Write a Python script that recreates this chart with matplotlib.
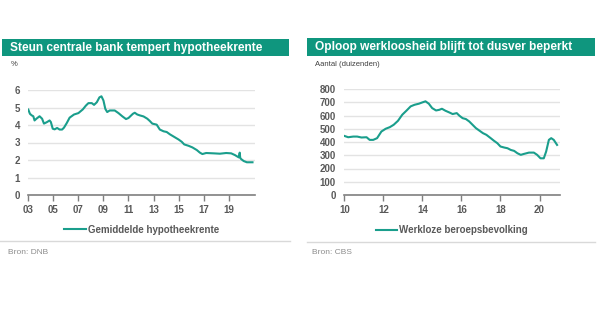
import matplotlib.pyplot as plt
from matplotlib.patches import Rectangle
from matplotlib.lines import Line2D

plt.rcParams['font.family'] = ['Liberation Sans', 'DejaVu Sans']

TEAL = '#0f967e'
LINE = '#1a9e8c'
GREY = '#595959'

# Gemiddelde hypotheekrente (%), DNB
rente_jaar = [2003.0, 2003.13, 2003.27, 2003.4, 2003.5, 2003.65, 2003.9, 2004.1, 2004.25,
              2004.5, 2004.7, 2004.8, 2004.95, 2005.1, 2005.3, 2005.5, 2005.7, 2005.85,
              2006.07, 2006.3, 2006.65, 2007.0, 2007.35, 2007.6, 2007.8, 2008.07, 2008.25,
              2008.47, 2008.68, 2008.84, 2009.0, 2009.15, 2009.3, 2009.5, 2009.9, 2010.2,
              2010.5, 2010.8, 2011.0, 2011.35, 2011.5, 2011.7, 2011.9, 2012.2, 2012.5,
              2012.7, 2012.9, 2013.25, 2013.5, 2013.8, 2014.05, 2014.3, 2014.65, 2015.0,
              2015.25, 2015.45, 2015.8, 2016.1, 2016.45, 2016.7, 2016.9, 2017.2, 2017.8,
              2018.3, 2018.8, 2019.2, 2019.5, 2019.8, 2019.88, 2019.92, 2020.0, 2020.2,
              2020.45, 2020.9]
rente = [4.88, 4.64, 4.55, 4.5, 4.26, 4.36, 4.5, 4.36, 4.08,
         4.17, 4.26, 4.17, 3.79, 3.75, 3.83, 3.74, 3.74, 3.85,
         4.11, 4.42, 4.6, 4.68, 4.89, 5.11, 5.25, 5.25, 5.15,
         5.3, 5.58, 5.64, 5.4, 4.92, 4.74, 4.83, 4.83, 4.68,
         4.5, 4.34, 4.4, 4.64, 4.7, 4.6, 4.55, 4.49, 4.36,
         4.23, 4.08, 4.02, 3.74, 3.64, 3.6, 3.47, 3.32, 3.17,
         3.04, 2.89, 2.81, 2.72, 2.57, 2.42, 2.34, 2.4, 2.38,
         2.36, 2.4, 2.38, 2.28, 2.15, 2.42, 2.12, 2.05, 1.94,
         1.87, 1.87]

# Werkloze beroepsbevolking (x 1000), CBS
wl_jaar = [2010.0, 2010.2, 2010.46, 2010.66, 2010.88, 2011.14, 2011.3, 2011.48, 2011.68,
           2011.9, 2012.12, 2012.33, 2012.53, 2012.75, 2012.97, 2013.18, 2013.4, 2013.6,
           2013.82, 2014.0, 2014.16, 2014.33, 2014.5, 2014.7, 2014.87, 2015.0, 2015.18,
           2015.38, 2015.55, 2015.76, 2015.9, 2016.06, 2016.23, 2016.4, 2016.57, 2016.74,
           2016.91, 2017.1, 2017.28, 2017.5, 2017.67, 2017.84, 2018.0, 2018.2, 2018.36,
           2018.53, 2018.7, 2018.87, 2019.04, 2019.2, 2019.46, 2019.71, 2019.88, 2020.05,
           2020.22, 2020.34, 2020.48, 2020.6, 2020.73, 2020.9]
werkloos = [446, 436, 441, 441, 434, 436, 416, 416, 429,
            479, 500, 512, 530, 560, 606, 636, 669, 681,
            689, 699, 707, 689, 656, 638, 643, 651, 636,
            623, 611, 618, 598, 580, 573, 555, 530, 505,
            487, 467, 454, 429, 409, 391, 366, 358, 353,
            340, 333, 315, 303, 310, 320, 320, 303, 277,
            277, 328, 416, 429, 416, 378]

rente_ticks = [2003, 2005, 2007, 2009, 2011, 2013, 2015, 2017, 2019]
wl_ticks = [2010, 2012, 2014, 2016, 2018, 2020]

W, H = 600, 326
fig = plt.figure(figsize=(W / 100, H / 100), dpi=100)


def px(x0, y0, x1, y1):
    # pixel box (top-left origin) -> figure fraction rect
    return [x0 / W, 1 - y1 / H, (x1 - x0) / W, (y1 - y0) / H]


def panel(bar, title, unit, unit_xy, sep, bron):
    x0, y0, x1, y1 = bar
    fig.add_artist(Rectangle((x0 / W, 1 - y1 / H), (x1 - x0) / W, (y1 - y0) / H,
                             transform=fig.transFigure, color=TEAL, lw=0))
    fig.text((x0 + 8) / W, 1 - (y0 + y1) / 2 / H, title, color='white',
             fontsize=8.6, fontweight='bold', va='center', ha='left')
    fig.text(unit_xy[0] / W, 1 - unit_xy[1] / H, unit, color='#404040',
             fontsize=5.5, va='center', ha='left')
    sx0, sx1, sy = sep
    fig.add_artist(Line2D([sx0 / W, sx1 / W], [1 - sy / H, 1 - sy / H],
                          transform=fig.transFigure, color='#d9d9d9', lw=1))
    fig.text(unit_xy[0] / W - 3 / W, 1 - (sy + 11) / H, bron, color='#8c8c8c',
             fontsize=6, va='center', ha='left')


def style(ax, ticks, labels, ylim, yticks):
    ax.set_xticks(ticks)
    ax.set_xticklabels(labels)
    ax.set_ylim(*ylim)
    ax.set_yticks(yticks)
    for s in ['left', 'right', 'top']:
        ax.spines[s].set_visible(False)
    ax.spines['bottom'].set_color('#7f7f7f')
    ax.spines['bottom'].set_linewidth(1.2)
    ax.tick_params(axis='x', length=4, width=1, color='#7f7f7f', pad=3)
    ax.tick_params(axis='y', length=0, pad=6)
    ax.tick_params(labelsize=7, labelcolor=GREY)
    for t in ax.get_xticklabels() + ax.get_yticklabels():
        t.set_fontweight('bold')
    ax.grid(axis='y', color='#e3e3e3', lw=1)
    ax.set_axisbelow(True)
    leg = ax.legend(loc='upper center', bbox_to_anchor=(0.5, -0.2), frameon=False,
                    fontsize=7, handlelength=2.2, handletextpad=0.2)
    for t in leg.get_texts():
        t.set_color(GREY)
        t.set_fontweight('bold')


# left: hypotheekrente
panel((2, 39, 289, 56), 'Steun centrale bank tempert hypotheekrente', '%', (11, 65),
      (0, 290, 241), 'Bron: DNB')
ax1 = fig.add_axes(px(28.3, 90, 255, 195))
ax1.plot(rente_jaar, rente, color=LINE, lw=1.5, label='Gemiddelde hypotheekrente')
ax1.set_xlim(2003, 2021.1)
style(ax1, rente_ticks, [f'{t % 100:02d}' for t in rente_ticks], (0, 6), range(0, 7))

# right: werkloosheid
panel((307, 38, 595, 56), 'Oploop werkloosheid blijft tot dusver beperkt', 'Aantal (duizenden)',
      (315, 64), (307, 595, 242), 'Bron: CBS')
ax2 = fig.add_axes(px(344.3, 89, 560, 195))
ax2.plot(wl_jaar, werkloos, color=LINE, lw=1.5, label='Werkloze beroepsbevolking')
ax2.set_xlim(2010, 2021.05)
style(ax2, wl_ticks, [f'{t % 100:02d}' for t in wl_ticks], (0, 800), range(0, 801, 100))

fig.savefig('out.png', dpi=100, facecolor='white')
